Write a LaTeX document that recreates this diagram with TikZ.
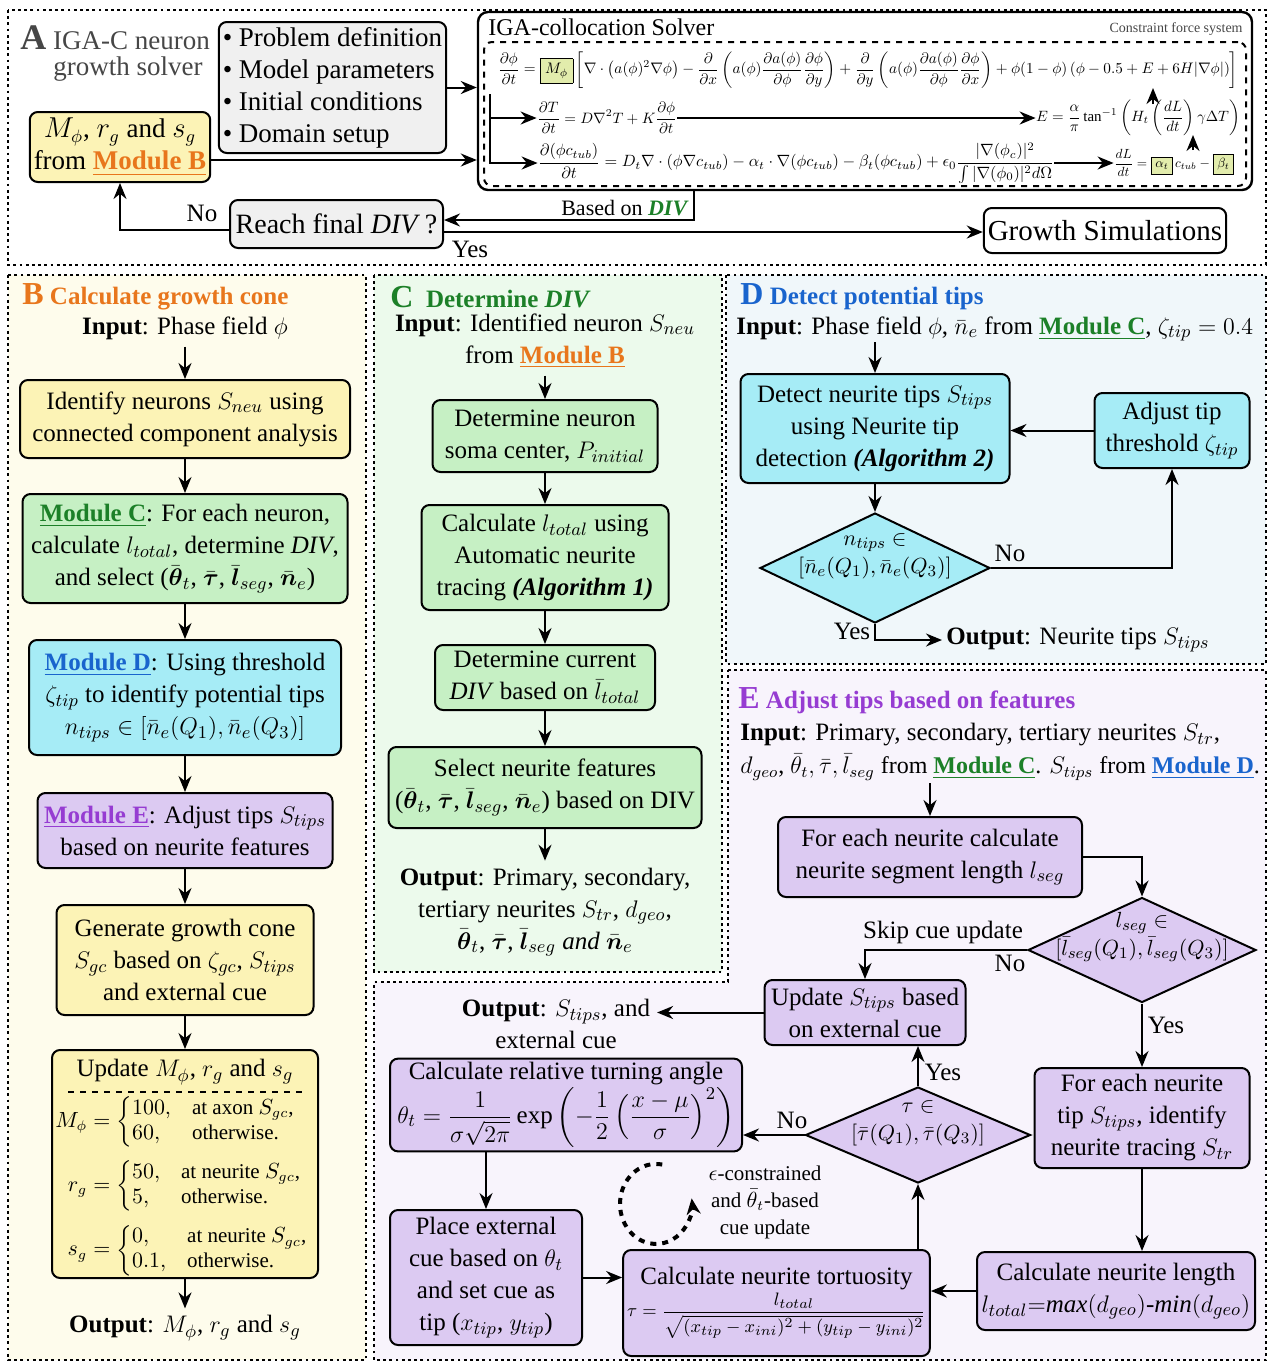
\documentclass[tikz,border=0pt]{standalone}
\usepackage{amsmath,amssymb}
\usepackage{graphicx}
\usepackage{fontspec}
\setmainfont{Liberation Serif}
\usetikzlibrary{arrows.meta,shapes.geometric,calc}
\definecolor{yfill}{RGB}{252,243,182}
\definecolor{gfill}{RGB}{198,240,196}
\definecolor{cfill}{RGB}{166,236,246}
\definecolor{pfill}{RGB}{220,202,242}
\definecolor{grayfill}{RGB}{240,240,240}
\definecolor{mfill}{RGB}{226,236,172}
\definecolor{bgB}{RGB}{254,252,236}
\definecolor{bgC}{RGB}{236,250,236}
\definecolor{bgD}{RGB}{240,247,250}
\definecolor{bgE}{RGB}{248,244,252}
\definecolor{orangeT}{RGB}{232,118,28}
\definecolor{greenT}{RGB}{28,128,40}
\definecolor{blueT}{RGB}{25,100,205}
\definecolor{purpleT}{RGB}{150,60,210}
\definecolor{titlegray}{RGB}{70,70,70}
\newcommand\fs{\fontsize{12.5}{16}\selectfont}
\newcommand\fsA{\fontsize{13.5}{16}\selectfont}
\newcommand\fsd{\fontsize{11}{14}\selectfont}
\newcommand\modB{\textcolor{orangeT}{\underline{\textbf{Module B}}}}
\newcommand\modC{\textcolor{greenT}{\underline{\textbf{Module C}}}}
\newcommand\modD{\textcolor{blueT}{\underline{\textbf{Module D}}}}
\newcommand\modE{\textcolor{purpleT}{\underline{\textbf{Module E}}}}
\newcommand\xth{\bar{\boldsymbol{\theta}}_t}
\newcommand\xtau{\bar{\boldsymbol{\tau}}}
\newcommand\xls{\bar{\boldsymbol{l}}_{seg}}
\newcommand\xne{\bar{\boldsymbol{n}}_e}
\newcommand\mycase[4]{\left\{\renewcommand\arraystretch{1.0}\begin{array}{@{}l@{\quad}l@{}}#1, & \text{#2}\\ #3, & \text{#4}\end{array}\right.}
\begin{document}
\begin{tikzpicture}[x=0.5pt,y=-0.5pt,
  wh/.style 2 args={minimum width={#1*0.5pt},minimum height={#2*0.5pt}},
  box/.style={draw=black,line width=1pt,rounded corners=4pt,align=center,font=\fs,inner sep=2pt},
  ybox/.style={box,fill=yfill},
  gbox/.style={box,fill=gfill},
  cbox/.style={box,fill=cfill},
  pbox/.style={box,fill=pfill},
  graybox/.style={box,fill=grayfill},
  dia/.style={draw=black,line width=1pt,shape=diamond,inner sep=0pt},
  arr/.style={-{Stealth[length=8pt,width=6.5pt]},line width=1pt},
  panel/.style={line width=1.4pt,dash pattern=on 1.4pt off 1.7pt},
  lbl/.style={font=\fs,inner sep=1pt}]
\useasboundingbox (0,0) rectangle (1280,1366);
% ---------- panels ----------
\draw[panel] (8,10) rectangle (1266,265);
\filldraw[panel,fill=bgB] (8,275) rectangle (366,1360);
\filldraw[panel,fill=bgC] (374,275) rectangle (722,972);
\filldraw[panel,fill=bgD] (726,275) rectangle (1266,664);
\filldraw[panel,fill=bgE] (728,670) -- (1266,670) -- (1266,1360) -- (374,1360) -- (374,982) -- (728,982) -- cycle;

% ---------- Panel A ----------
\node[anchor=west,text=titlegray,font=\fsA,inner sep=0pt] (tA) at (20,38) {{\fontsize{18}{20}\selectfont\textbf{A}}\ IGA-C neuron};
\node[text=titlegray,font=\fsA,inner sep=0pt] (tA2) at (128,69) {growth solver};
\node[graybox,font=\fsA,align=left,wh={221}{131}] (prob) at (332.5,87.5)
 {\textbullet\ Problem definition\\\textbullet\ Model parameters\\\textbullet\ Initial conditions\\\textbullet\ Domain setup};
\node[ybox,font=\fsA,wh={180}{70}] (ymod) at (120,147) {$M_\phi$, $r_g$ and $s_g$\\from \modB};
\node[draw=black,line width=1.2pt,rounded corners=5pt,wh={774}{178}] (solver) at (865,101) {};
\node[anchor=west,font=\fontsize{12}{14}\selectfont,inner sep=0pt] (stitle) at (488,27) {IGA-collocation Solver};
\node[anchor=east,font=\fontsize{7}{8}\selectfont,text=titlegray,inner sep=0pt] (stag) at (1243,29) {Constraint force system};
\node[draw=black,dashed,line width=1pt,rounded corners=4pt,wh={762}{144}] (eqframe) at (865,114) {};
\node[inner sep=0pt] (eq1) at (868,70) {\resizebox{370pt}{!}{$\displaystyle \frac{\partial\phi}{\partial t}=\fcolorbox{black}{mfill}{$M_\phi$}\left[\nabla\cdot\left(a(\phi)^2\nabla\phi\right)-\frac{\partial}{\partial x}\left(a(\phi)\frac{\partial a(\phi)}{\partial\phi}\frac{\partial\phi}{\partial y}\right)+\frac{\partial}{\partial y}\left(a(\phi)\frac{\partial a(\phi)}{\partial\phi}\frac{\partial\phi}{\partial x}\right)+\phi(1-\phi)\left(\phi-0.5+E+6H|\nabla\phi|\right)\right]$}};
\node[inner sep=0pt] (eq2l) at (607,118) {\resizebox{70pt}{!}{$\displaystyle \frac{\partial T}{\partial t}=D\nabla^2T+K\frac{\partial\phi}{\partial t}$}};
\node[inner sep=0pt] (eq2r) at (1138,118) {\resizebox{102pt}{!}{$\displaystyle E=\frac{\alpha}{\pi}\tan^{-1}\left(H_t\left(\frac{dL}{dt}\right)\gamma\Delta T\right)$}};
\node[inner sep=0pt] (eq3l) at (796,163) {\resizebox{258pt}{!}{$\displaystyle \frac{\partial(\phi c_{tub})}{\partial t}=D_t\nabla\cdot(\phi\nabla c_{tub})-\alpha_t\cdot\nabla(\phi c_{tub})-\beta_t(\phi c_{tub})+\epsilon_0\frac{|\nabla(\phi_c)|^2}{\int|\nabla(\phi_0)|^2d\Omega}$}};
\node[inner sep=0pt] (eq3r) at (1174,163) {\resizebox{60pt}{!}{$\displaystyle \frac{dL}{dt}=\fcolorbox{black}{mfill}{$\alpha_t$}\,c_{tub}-\fcolorbox{black}{mfill}{$\beta_t$}$}};
\coordinate (brk) at (490,94);
\draw[arr] (brk) |- (eq2l.west);
\draw[arr] (brk) |- (eq3l.west);
\draw[arr] (eq2l.east) -- (eq2r.west);
\draw[arr] (eq3l.east) -- (eq3r.west);
\coordinate (u1a) at (1153,104);
\coordinate (u1b) at (1153,88);
\draw[arr] (u1a) -- (u1b);
\coordinate (u2a) at (1193,150);
\coordinate (u2b) at (1193,135);
\draw[arr] (u2a) -- (u2b);
\draw[arr] (prob.east) -- (prob.east -| solver.west);
\draw[arr] ([yshift=-6.5pt]ymod.east) -- ([yshift=-6.5pt]ymod.east -| solver.west);
\node[graybox,font=\fontsize{14}{16}\selectfont,wh={213}{48}] (reach) at (336.5,224) {Reach final \textit{DIV}\,?};
\node[box,font=\fontsize{14.5}{16}\selectfont,wh={240}{45}] (growth) at (1105,230.5) {Growth Simulations};
\coordinate (bd) at (694,190);
\draw[arr] (bd) |- ([yshift=2pt]reach.east);
\node[lbl,font=\fontsize{11}{13}\selectfont] at (625,208) {Based on \textcolor{greenT}{\textbf{\textit{DIV}}}};
\draw[arr] ([yshift=-4pt]reach.east) -- ([yshift=-4pt]reach.east -| growth.west);
\node[lbl] at (470,249) {Yes};
\draw[arr] ([yshift=-3pt]reach.west) -| (ymod.south);
\node[lbl] at (202,213) {No};

% ---------- Panel B ----------
\node[anchor=west,text=orangeT,font=\bfseries\fs,inner sep=0pt] (tB) at (22,297) {{\fontsize{16}{18}\selectfont B}\ Calculate growth cone};
\node[font=\fs] (Bin) at (185,328) {\textbf{Input}: Phase field $\phi$};
\node[ybox,wh={330}{78}] (B1) at (185,419) {Identify neurons $S_{neu}$ using\\connected component analysis};
\node[gbox,wh={325}{109}] (B2) at (185,548.5) {\modC: For each neuron,\\calculate $l_{total}$, determine \textit{DIV},\\and select ($\xth$, $\xtau$, $\xls$, $\xne$)};
\node[cbox,wh={312}{115}] (B3) at (185,697.5) {\modD: Using threshold\\$\zeta_{tip}$ to identify potential tips\\$n_{tips}\in[\bar n_e(Q_1),\bar n_e(Q_3)]$};
\node[pbox,wh={295}{75}] (B4) at (185,830.5) {\modE: Adjust tips $S_{tips}$\\based on neurite features};
\node[ybox,wh={257}{110}] (B5) at (185,960) {Generate growth cone\\$S_{gc}$ based on $\zeta_{gc}$, $S_{tips}$\\and external cue};
\node[ybox,wh={266}{228}] (B6) at (185,1164) {};
\node[font=\fs] (B6t) at (185,1072) {Update $M_\phi$, $r_g$ and $s_g$};
\draw[dashed,line width=0.8pt] (68,1092) -- (305,1092);
\node[font=\fontsize{10.5}{12.5}\selectfont,inner sep=0pt] (B6c) at (182,1186) {$\begin{aligned}
M_\phi &= \mycase{100}{at axon $S_{gc}$,}{60}{otherwise.}\\[3pt]
r_g &= \mycase{50}{at neurite $S_{gc}$,}{5}{otherwise.}\\[3pt]
s_g &= \mycase{0}{at neurite $S_{gc}$,}{0.1}{otherwise.}
\end{aligned}$};
\node[font=\fs] (Bout) at (185,1328) {\textbf{Output}: $M_\phi$, $r_g$ and $s_g$};
\draw[arr] (Bin.south) -- (B1.north);
\draw[arr] (B1.south) -- (B2.north);
\draw[arr] (B2.south) -- (B3.north);
\draw[arr] (B3.south) -- (B4.north);
\draw[arr] (B4.south) -- (B5.north);
\draw[arr] (B5.south) -- (B6.north);
\draw[arr] (B6.south) -- (Bout.north);

% ---------- Panel C ----------
\node[anchor=west,text=greenT,font=\bfseries\fs,inner sep=0pt] (tC) at (390,297) {{\fontsize{16}{18}\selectfont C}\ \ Determine \textit{DIV}};
\node[font=\fs,align=center] (Cin) at (545,341) {\textbf{Input}: Identified neuron $S_{neu}$\\from \modB};
\node[gbox,wh={225}{72}] (C1) at (545,436) {Determine neuron\\soma center, $P_{initial}$};
\node[gbox,wh={247}{105}] (C2) at (545,557.5) {Calculate $l_{total}$ using\\Automatic neurite\\tracing \textbf{\textit{(Algorithm 1)}}};
\node[gbox,wh={220}{65}] (C3) at (545,677.5) {Determine current\\\textit{DIV} based on $\bar l_{total}$};
\node[gbox,wh={313}{81}] (C4) at (545,787.5) {Select neurite features\\($\xth$, $\xtau$, $\xls$, $\xne$) based on DIV};
\node[font=\fs,align=center] (Cout) at (545,912) {\textbf{Output}: Primary, secondary,\\tertiary neurites $S_{tr}$, $d_{geo}$,\\$\xth$, $\xtau$, $\xls$ \textit{and} $\xne$};
\draw[arr] (Cin.south) -- (C1.north);
\draw[arr] (C1.south) -- (C2.north);
\draw[arr] (C2.south) -- (C3.north);
\draw[arr] (C3.south) -- (C4.north);
\draw[arr] (C4.south) -- (Cout.north);

% ---------- Panel D ----------
\node[anchor=west,text=blueT,font=\bfseries\fs,inner sep=0pt] (tD) at (740,297) {{\fontsize{16}{18}\selectfont D}\ Detect potential tips};
\node[font=\fs,anchor=west,inner sep=0pt] (Din) at (736,329) {\textbf{Input}: Phase field $\phi$, $\bar n_e$ from \modC, $\zeta_{tip}=0.4$};
\node[cbox,wh={269}{109}] (D1) at (875,428.5) {Detect neurite tips $S_{tips}$\\using Neurite tip\\detection \textbf{\textit{(Algorithm 2)}}};
\node[cbox,wh={155}{75}] (D2) at (1172,430.5) {Adjust tip\\threshold $\zeta_{tip}$};
\node[dia,fill=cfill,wh={230}{110}] (D3) at (875,568) {};
\node[font=\fsd,align=center,inner sep=0pt] (D3t) at (875,556) {$n_{tips}\in$\\$[\bar n_e(Q_1),\bar n_e(Q_3)]$};
\node[font=\fs,anchor=west,inner sep=2pt] (Dout) at (942,640) {\textbf{Output}: Neurite tips $S_{tips}$};
\coordinate (dinA) at (875,342);
\draw[arr] (dinA) -- (D1.north);
\draw[arr] (D2.west) -- (D2.west -| D1.east);
\draw[arr] (D1.south) -- (D3.north);
\draw[arr] (D3.east) -| (D2.south);
\draw[arr] (D3.south) |- (Dout.west);
\node[lbl] at (1010,553) {No};
\node[lbl] at (852,631) {Yes};

% ---------- Panel E ----------
\node[anchor=west,text=purpleT,font=\bfseries\fs,inner sep=0pt] (tE) at (738,701) {{\fontsize{16}{18}\selectfont E}\ Adjust tips based on features};
\node[font=\fs,anchor=west,inner sep=0pt] (Ein1) at (740,735) {\textbf{Input}: Primary, secondary, tertiary neurites $S_{tr}$,};
\node[font=\fontsize{12}{16}\selectfont,anchor=west,inner sep=0pt] (Ein2) at (740,767) {$d_{geo}$, $\bar\theta_t,\bar\tau,\bar l_{seg}$ from \modC. $S_{tips}$ from \modD.};
\node[pbox,wh={304}{80}] (E1) at (930,857) {For each neurite calculate\\neurite segment length $l_{seg}$};
\node[dia,fill=pfill,wh={228}{105}] (E2) at (1142,950) {};
\node[font=\fsd,align=center,inner sep=0pt] (E2t) at (1142,937) {$l_{seg}\in$\\$[\bar l_{seg}(Q_1),\bar l_{seg}(Q_3)]$};
\node[pbox,wh={201}{65}] (E3) at (865,1012.5) {Update $S_{tips}$ based\\on external cue};
\node[font=\fs,align=center] (Eout) at (556,1024) {\textbf{Output}: $S_{tips}$, and\\external cue};
\node[pbox,wh={215}{100}] (E4) at (1142,1118) {For each neurite\\tip $S_{tips}$, identify\\neurite tracing $S_{tr}$};
\node[pbox,wh={278}{78}] (E5) at (1116,1291) {Calculate neurite length\\$l_{total}{=}\mathit{max}(d_{geo})\text{-}\mathit{min}(d_{geo})$};
\node[pbox,wh={297}{106}] (E6) at (776.5,1303) {Calculate neurite tortuosity\\{\fontsize{9.5}{12}\selectfont$\tau=\dfrac{l_{total}}{\sqrt{(x_{tip}-x_{ini})^2+(y_{tip}-y_{ini})^2}}$}};
\node[dia,fill=pfill,wh={225}{96}] (E7) at (918,1135) {};
\node[font=\fsd,align=center,inner sep=0pt] (E7t) at (918,1123) {$\tau\in$\\$[\bar\tau(Q_1),\bar\tau(Q_3)]$};
\node[pbox,wh={352}{90}] (E8) at (566,1105) {Calculate relative turning angle\\$\theta_t=\dfrac{1}{\sigma\sqrt{2\pi}}\exp\left(-\dfrac{1}{2}\left(\dfrac{x-\mu}{\sigma}\right)^{2}\right)$};
\node[pbox,wh={192}{135}] (E9) at (486,1277.5) {Place external\\cue based on $\theta_t$\\and set cue as\\tip ($x_{tip}$, $y_{tip}$)};
\coordinate (einA) at (930,783);
\draw[arr] (einA) -- (E1.north);
\draw[arr] (E1.east) -| (E2.north);
\draw[arr] (E2.west) -| (E3.north);
\node[lbl] at (943,932) {Skip cue update};
\node[lbl] at (1010,963) {No};
\draw[arr] (E3.west) -- (E3.west -| Eout.east);
\draw[arr] (E2.south) -- (E4.north);
\node[lbl] at (1166,1025) {Yes};
\draw[arr] (E4.south) -- (E5.north -| E4.south);
\draw[arr] (E5.west) -- (E5.west -| E6.east);
\draw[arr] (E6.north -| E7.south) -- (E7.south);
\draw[arr] (E7.north) -- (E7.north |- E3.south);
\node[lbl] at (943,1072) {Yes};
\draw[arr] (E7.west) -- (E7.west -| E8.east);
\node[lbl] at (792,1120) {No};
\draw[arr] (E9.north |- E8.south) -- (E9.north);
\draw[arr] (E9.east) -- (E9.east -| E6.west);
% dashed loop
\coordinate (cc) at (656,1200);
\draw[dashed,line width=2pt,-{Stealth[length=8pt,width=7pt]}] ([shift={(80:18pt)}]cc) arc[start angle=80,end angle=368,x radius=18pt,y radius=20pt];
\node[font=\fontsize{10.5}{13.5}\selectfont,align=center] (loopt) at (765,1202) {$\epsilon$-constrained\\and $\bar\theta_t$-based\\cue update};
\end{tikzpicture}
\end{document}
